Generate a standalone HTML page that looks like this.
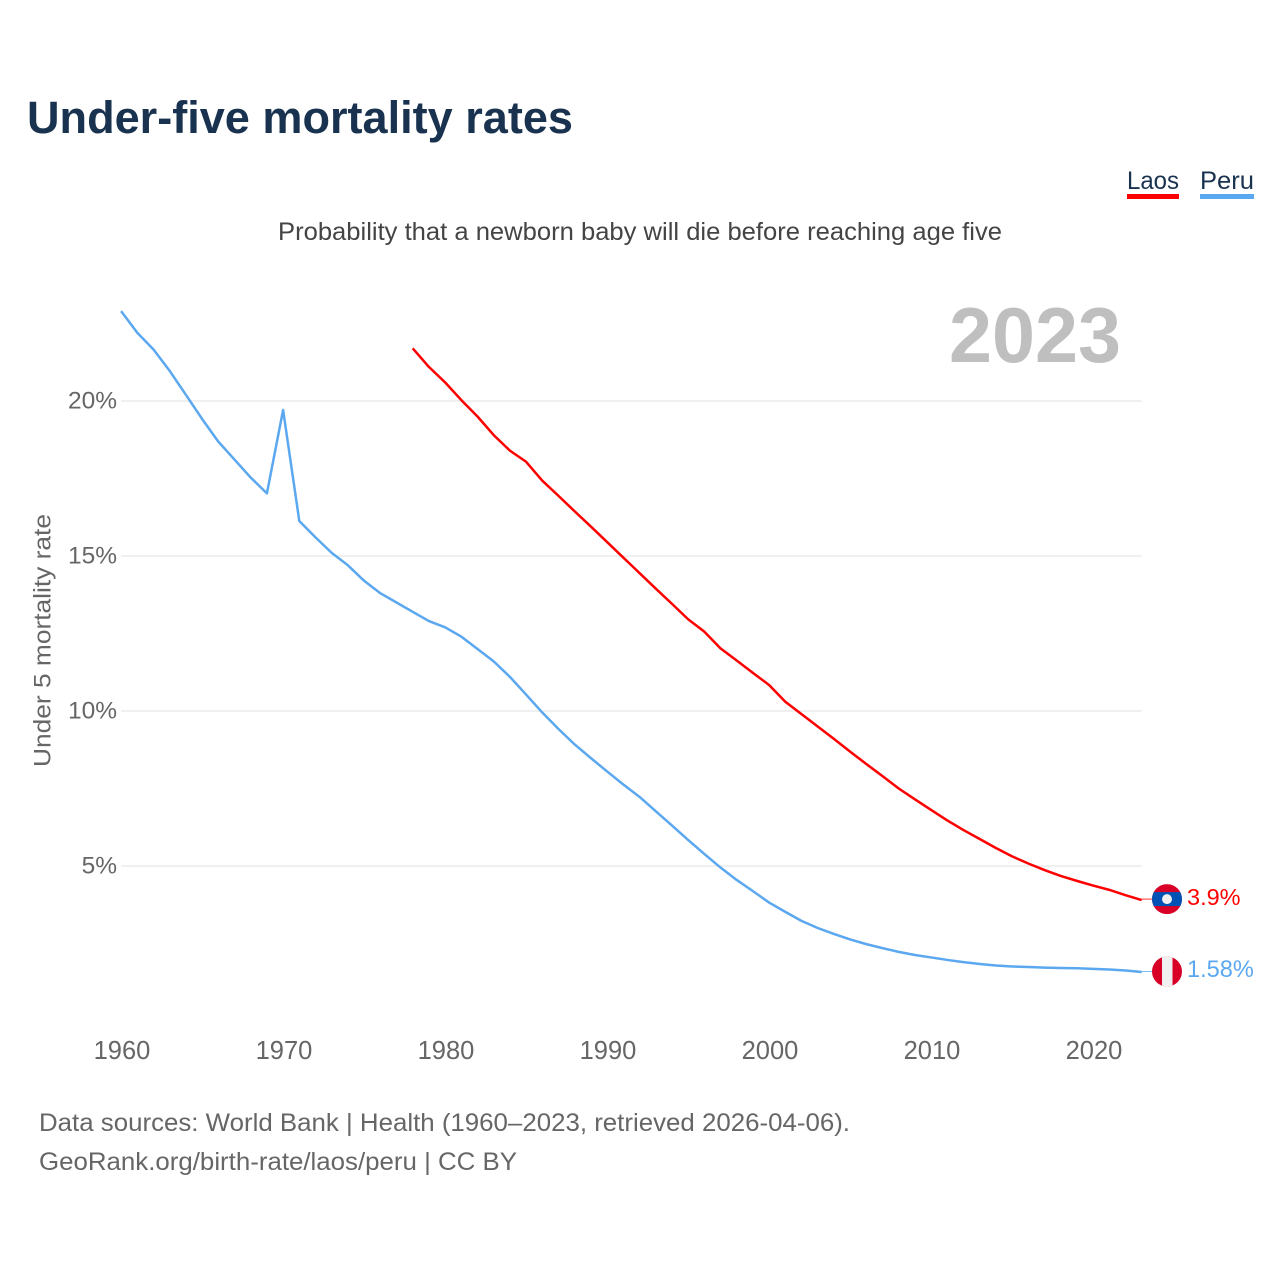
<!DOCTYPE html>
<html lang="en">
<head>
<meta charset="utf-8">
<title>Under-five mortality rates</title>
<style>
html,body{margin:0;padding:0;background:#fff;width:1280px;height:1280px;overflow:hidden}
svg{display:block}
text{font-family:"Liberation Sans",sans-serif}
</style>
</head>
<body>
<svg id="chart" width="1280" height="1280" viewBox="0 0 1280 1280" xmlns="http://www.w3.org/2000/svg">
  <defs>
    <clipPath id="flag-clip-laos"><circle id="clip-laos" cx="1167" cy="899" r="15"></circle></clipPath>
    <clipPath id="flag-clip-peru"><circle id="clip-peru" cx="1167" cy="971" r="15"></circle></clipPath>
  </defs>
  <text x="27" y="133" font-size="45" font-weight="700" fill="#18324f" textLength="546" lengthAdjust="spacingAndGlyphs">Under-five mortality rates</text>
  <text x="1127" y="189" font-size="25" fill="#18324f" textLength="52" lengthAdjust="spacingAndGlyphs">Laos</text>
  <rect x="1127" y="194" width="52" height="5" fill="#ff0000"></rect>
  <text x="1200" y="189" font-size="25" fill="#18324f" textLength="54" lengthAdjust="spacingAndGlyphs">Peru</text>
  <rect x="1200" y="194" width="54" height="5" fill="#5ba8f0"></rect>
  <text x="278" y="240" font-size="25" fill="#444444" textLength="724" lengthAdjust="spacingAndGlyphs">Probability that a newborn baby will die before reaching age five</text>
  <text x="949" y="362" font-size="78" font-weight="700" fill="#bfbfbf" textLength="172" lengthAdjust="spacingAndGlyphs">2023</text>
  <text transform="translate(50.5,767) rotate(-90)" font-size="24" fill="#666666" textLength="253" lengthAdjust="spacingAndGlyphs">Under 5 mortality rate</text>
  <g id="grid"></g>
  <g id="y-ticks"></g>
  <g id="x-ticks"></g>
  <g id="series"></g>
  <g id="flag-laos" clip-path="url(#flag-clip-laos)"></g>
  <g id="flag-peru" clip-path="url(#flag-clip-peru)"></g>
  <g id="end-labels"></g>
  <text x="39" y="1131" font-size="25" fill="#666666" textLength="811" lengthAdjust="spacingAndGlyphs">Data sources: World Bank | Health (1960–2023, retrieved 2026-04-06).</text>
  <text x="39" y="1170" font-size="25" fill="#666666" textLength="478" lengthAdjust="spacingAndGlyphs">GeoRank.org/birth-rate/laos/peru | CC BY</text>
</svg>
<script>
const xTickYears = [1960, 1970, 1980, 1990, 2000, 2010, 2020];
const yTickValues = [5, 10, 15, 20];
const peruStartYear = 1960;
const laosStartYear = 1978;
const peruValues = [22.9, 22.2, 21.66, 20.97, 20.2, 19.42, 18.69, 18.11, 17.53, 17.02,
  19.71, 16.13, 15.6, 15.1, 14.7, 14.2, 13.8, 13.5, 13.2, 12.9,
  12.7, 12.4, 12.0, 11.6, 11.1, 10.53, 9.95, 9.42, 8.92, 8.48,
  8.05, 7.63, 7.23, 6.77, 6.31, 5.84, 5.39, 4.95, 4.55, 4.19,
  3.82, 3.52, 3.23, 3.0, 2.81, 2.63, 2.48, 2.35, 2.23, 2.13,
  2.05, 1.97, 1.9, 1.84, 1.79, 1.76, 1.74, 1.72, 1.71, 1.70,
  1.68, 1.66, 1.63, 1.58];
const laosValues = [21.7, 21.1, 20.6, 20.03, 19.5, 18.9, 18.4, 18.04, 17.43, 16.94,
  16.44, 15.95, 15.45, 14.95, 14.45, 13.95, 13.46, 12.96, 12.56, 12.02,
  11.63, 11.23, 10.84, 10.3, 9.9, 9.5, 9.1, 8.69, 8.29, 7.9,
  7.5, 7.15, 6.81, 6.47, 6.16, 5.87, 5.58, 5.31, 5.08, 4.87,
  4.68, 4.52, 4.37, 4.23, 4.06, 3.9];
const laosLabel = "3.9%";
const peruLabel = "1.58%";

const NS = "http://www.w3.org/2000/svg";
function xScale(year) { return 121.1 + (year - 1960) * 16.2; }
function yScale(v) { return 1021 - v * 31; }
function make(tag, attrs, parent) {
  const el = document.createElementNS(NS, tag);
  for (const k in attrs) el.setAttribute(k, attrs[k]);
  parent.appendChild(el);
  return el;
}
const lastYear = 2023;
const gridG = document.getElementById("grid");
const yG = document.getElementById("y-ticks");
const xG = document.getElementById("x-ticks");
const seriesG = document.getElementById("series");
const labelsG = document.getElementById("end-labels");

yTickValues.forEach(function (v) {
  const line = make("line", {x1: xScale(1960), x2: xScale(lastYear), y1: yScale(v), y2: yScale(v), stroke: "#ebebeb", "stroke-width": 1.5}, gridG);
  
  
  const t = make("text", {x: 117, y: yScale(v) + 7.5, "text-anchor": "end", "font-size": 24.5, fill: "#666666"}, yG);
  
  
  t.textContent = v + "%";
});

xTickYears.forEach(function (y) {
  const t = make("text", {x: xScale(y) + 0.9, y: 1059, "text-anchor": "middle", "font-size": 25.5, fill: "#666666"}, xG);
  
  
  t.textContent = y;
});

function pointsFor(values, start) {
  return values.map(function (v, i) { return xScale(start + i).toFixed(2) + "," + yScale(v).toFixed(2); }).join(" ");
}
const peruLine = make("polyline", {points: pointsFor(peruValues, peruStartYear), fill: "none", stroke: "#5ba8f0", "stroke-width": 2.5, "stroke-linejoin": "round"}, seriesG);


const laosLine = make("polyline", {points: pointsFor(laosValues, laosStartYear), fill: "none", stroke: "#ff0000", "stroke-width": 2.5, "stroke-linejoin": "round"}, seriesG);



const laosEndY = yScale(laosValues[laosValues.length - 1]) - 1;
const peruEndY = yScale(peruValues[peruValues.length - 1]) - 0.5;
const endX = xScale(lastYear);

const laosLeader = make("line", {x1: endX, x2: 1152, y1: laosEndY, y2: laosEndY, stroke: "#ff0000", "stroke-width": 1, opacity: 0.8}, seriesG);


const peruLeader = make("line", {x1: endX, x2: 1152, y1: peruEndY, y2: peruEndY, stroke: "#5ba8f0", "stroke-width": 1, opacity: 0.8}, seriesG);



document.getElementById("clip-laos").setAttribute("cy", laosEndY);
document.getElementById("clip-peru").setAttribute("cy", peruEndY);

const fl = document.getElementById("flag-laos");
make("rect", {x: 1152, y: laosEndY - 15, width: 30, height: 30, fill: "#d80027"}, fl);
make("rect", {x: 1152, y: laosEndY - 7, width: 30, height: 14, fill: "#0052b4"}, fl);
make("circle", {cx: 1167, cy: laosEndY, r: 5, fill: "#f0f0f0"}, fl);

const fp = document.getElementById("flag-peru");
make("rect", {x: 1152, y: peruEndY - 15, width: 30, height: 30, fill: "#d80027"}, fp);
make("rect", {x: 1162, y: peruEndY - 15, width: 10.5, height: 30, fill: "#f0f0f0"}, fp);

const laosText = make("text", {x: 1187, y: laosEndY + 6, "font-size": 23.5, fill: "#ff0000"}, labelsG);


laosText.textContent = laosLabel;
const peruText = make("text", {x: 1187, y: peruEndY + 5.5, "font-size": 23.6, fill: "#5ba8f0"}, labelsG);


peruText.textContent = peruLabel;
</script>
</body>
</html>
